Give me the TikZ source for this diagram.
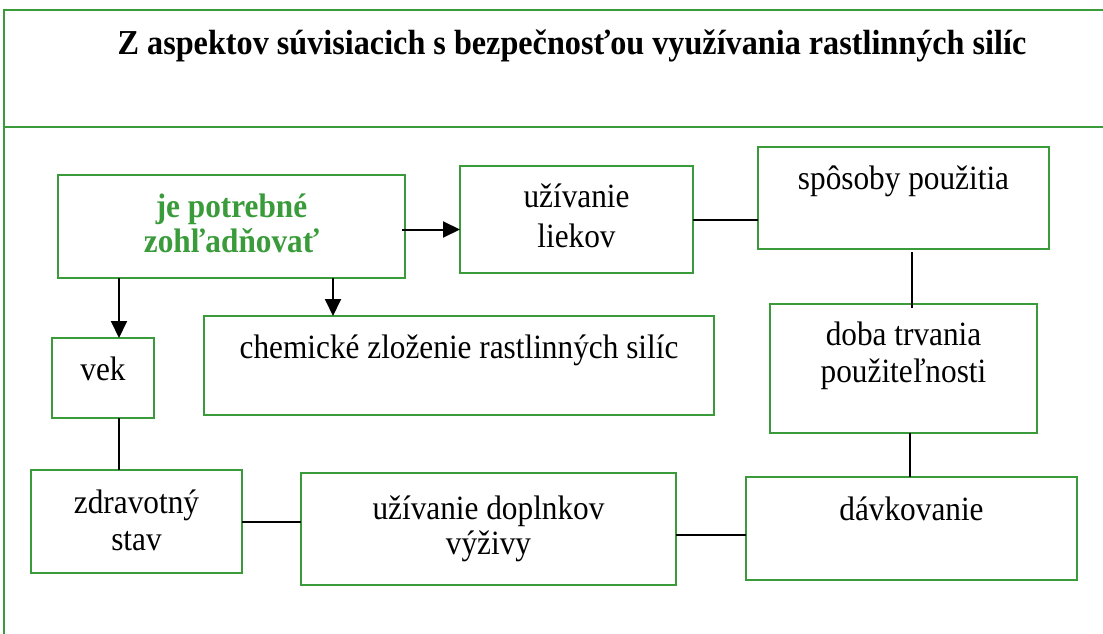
\documentclass[tikz,border=0pt]{standalone}
\usepackage{fontspec}
\setmainfont[FakeStretch=0.92]{Liberation Serif}
\usetikzlibrary{arrows.meta, calc, positioning}
\definecolor{leafgreen}{RGB}{58,155,58}

\begin{document}
\begin{tikzpicture}[x=1pt, y=-1pt, >={Triangle[length=17pt, width=16pt]},
  every node/.style={font=\fontsize{34}{37}\selectfont, align=center,
    inner sep=0pt, outer sep=0pt},
  box/.style={draw=leafgreen, line width=2pt, anchor=north west},
  link/.style={line width=2pt}
 ]
 \useasboundingbox (0,0) rectangle (1103,634);
 % frame and heading
 \coordinate (TL) at (4,10);
 \draw [leafgreen, line width=2pt] (1103,10) -- (TL) -- (4,634);
 \draw [leafgreen, line width=2pt] (4,127) -- (1103,127);
 \node [font=\fontsize{35}{40}\selectfont\bfseries] (T) at (572,46)
  {Z aspektov súvisiacich s bezpečnosťou využívania rastlinných silíc};

 % boxes
 \node [box, minimum width=347, minimum height=103, text depth=6,
  text=leafgreen, font=\fontsize{34}{35}\selectfont\bfseries]
  (A) at (58,175) {je potrebné\\zohľadňovať};
 \node [box, minimum width=233, minimum height=107, text depth=7,
  font=\fontsize{34}{40}\selectfont]
  (B) at (460,166) {užívanie\\liekov};
 \node [box, minimum width=291, minimum height=102, text depth=40]
  (C) at (758,147) {spôsoby použitia};
 \node [box, minimum width=267, minimum height=129, text depth=32]
  (D) at (770,304) {doba trvania\\použiteľnosti};
 \node [box, minimum width=331, minimum height=103, text depth=39]
  (E) at (746,477) {dávkovanie};
 \node [box, minimum width=375, minimum height=112, text depth=8,
  font=\fontsize{34}{35}\selectfont]
  (F) at (301,473) {užívanie doplnkov\\výživy};
 \node [box, minimum width=211, minimum height=103, text depth=2]
  (G) at (31,470) {zdravotný\\stav};
 \node [box, minimum width=102, minimum height=80, text depth=18]
  (V) at (52,338) {vek};
 \node [box, minimum width=510, minimum height=99, text depth=37]
  (Ch) at (204,316) {chemické zloženie rastlinných silíc};

 % connectors
 \coordinate (a1) at ($(A.south west)+(61,0)$);
 \coordinate (a2) at ($(A.south west)+(275,0)$);
 \coordinate (a3) at ($(A.east)+(-3,3)$);
 \draw [->, link] (a3) -- (a3 -| B.west);
 \draw [->, link] (a1) -- (a1 |- V.north);
 \draw [->, link] (a2) -- (a2 |- Ch.north);
 \draw [link] (B.east) -- (B.east -| C.west);
 \coordinate (c1) at ($(C.south)+(8,3)$);
 \draw [link] (c1) -- ($(c1 |- D.north)+(0,4)$);
 \coordinate (d1) at ($(D.south)+(6,0)$);
 \draw [link] (d1) -- (d1 |- E.north);
 \coordinate (v1) at ($(V.south)+(16,0)$);
 \draw [link] (v1) -- (v1 |- G.north);
 \draw [link] (G.east) -- (G.east -| F.west);
 \coordinate (f1) at ($(F.east)+(0,6)$);
 \draw [link] (f1) -- (f1 -| E.west);
\end{tikzpicture}
\end{document}
